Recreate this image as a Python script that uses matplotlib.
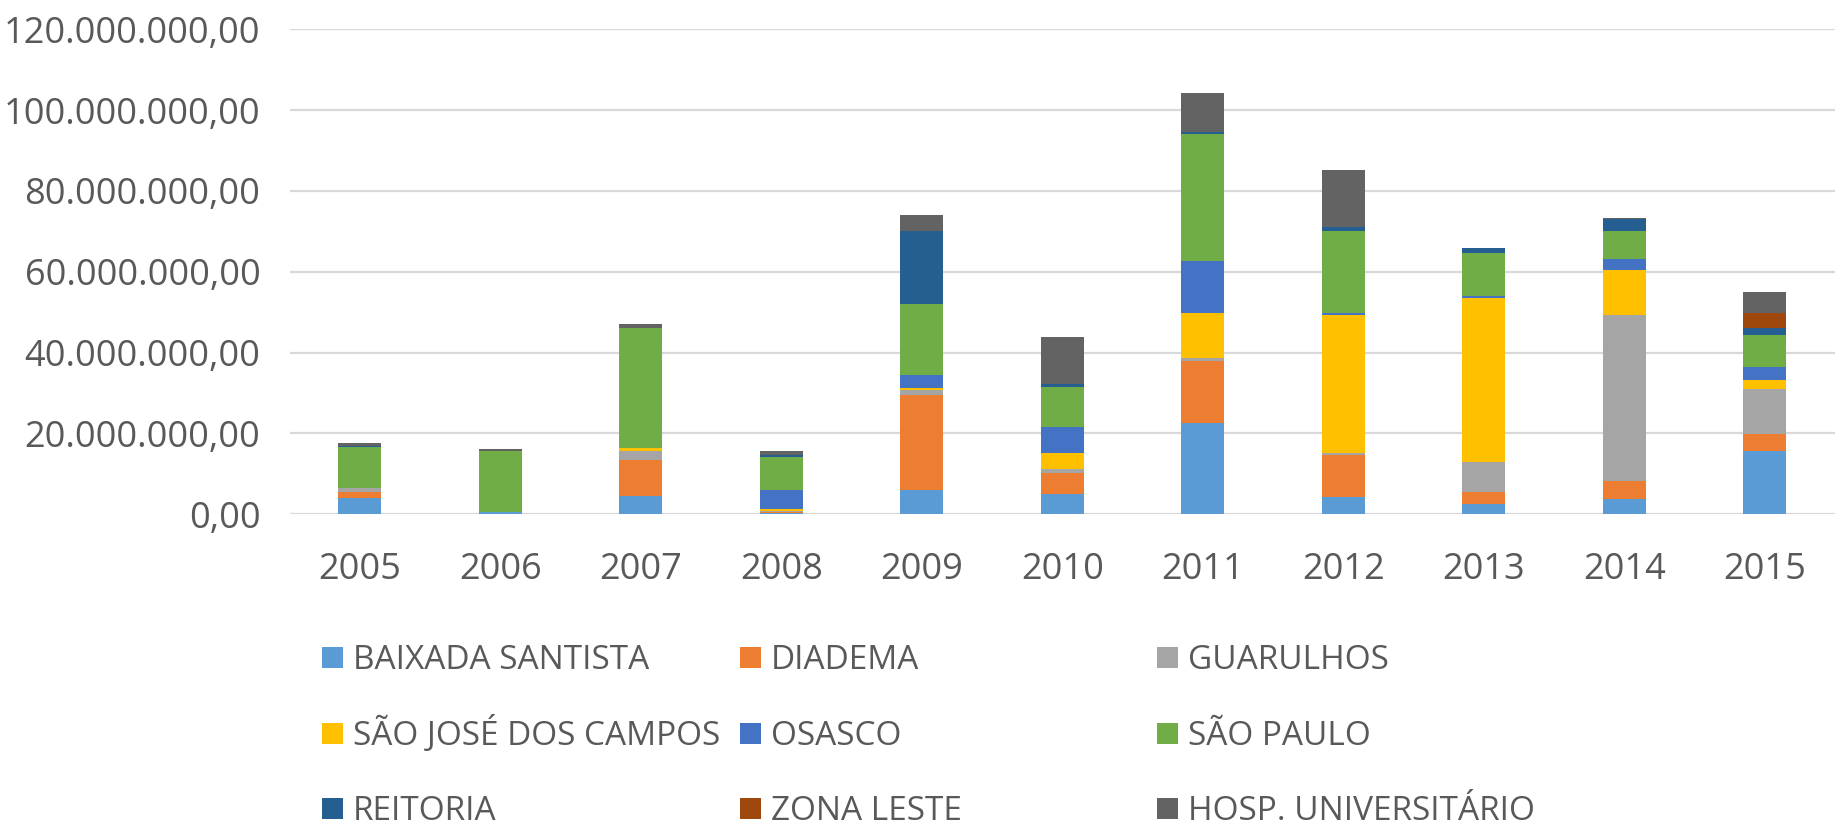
#!/usr/bin/env python3
# -*- coding: utf-8 -*-

import numpy as np
import matplotlib
matplotlib.use('Agg')
import matplotlib.pyplot as plt
from matplotlib.patches import Rectangle
from matplotlib.ticker import FuncFormatter, MultipleLocator

plt.rcParams['font.family'] = ['Open Sans', 'DejaVu Sans']

# anos e valores (milhões de R$)
anos = ['2005', '2006', '2007', '2008', '2009', '2010', '2011', '2012', '2013', '2014', '2015']

baixada_santista = [3.9, 0.6, 4.5, 0.2, 5.9, 4.9, 22.5, 4.3, 2.6, 3.8, 15.6]
diadema = [1.5, 0.0, 9.0, 0.2, 23.6, 5.3, 15.4, 10.3, 2.8, 4.3, 4.2]
guarulhos = [1.1, 0.0, 2.2, 0.3, 1.1, 1.0, 0.7, 0.4, 7.4, 41.2, 11.2]
sao_jose = [0.0, 0.0, 0.6, 0.5, 0.5, 3.8, 11.1, 34.2, 40.6, 11.1, 2.2]
osasco = [0.0, 0.0, 0.0, 4.8, 3.3, 6.5, 12.9, 0.5, 0.6, 2.7, 3.1]
sao_paulo = [10.2, 15.1, 29.7, 8.0, 17.6, 10.0, 31.5, 20.4, 10.7, 7.0, 8.0]
reitoria = [0.2, 0.0, 0.0, 0.6, 18.2, 0.7, 0.6, 1.1, 1.1, 2.9, 1.7]
zona_leste = [0.0, 0.0, 0.0, 0.0, 0.0, 0.0, 0.0, 0.0, 0.0, 0.0, 3.7]
hosp_univ = [0.6, 0.5, 1.1, 1.0, 3.8, 11.7, 9.5, 13.9, 0.2, 0.3, 5.3]

nomes = ['BAIXADA SANTISTA', 'DIADEMA', 'GUARULHOS',
         'SÃO JOSÉ DOS CAMPOS', 'OSASCO', 'SÃO PAULO',
         'REITORIA', 'ZONA LESTE', 'HOSP. UNIVERSITÁRIO']
series = [baixada_santista, diadema, guarulhos, sao_jose, osasco,
          sao_paulo, reitoria, zona_leste, hosp_univ]
cores = ['#5B9BD5', '#ED7D31', '#A5A5A5', '#FFC000', '#4472C4',
         '#70AD47', '#255E91', '#9E480E', '#636363']

texto_cor = '#595959'

fig = plt.figure(figsize=(18.35, 8.26), dpi=100)
ax = fig.add_axes([0.1578, 0.3777, 0.8422, 0.5866])

x = np.arange(len(anos))
base = np.zeros(len(anos))
for nome, vals, cor in zip(nomes, series, cores):
    vals = np.array(vals)
    ax.bar(x, vals, width=0.306, bottom=base, color=cor, linewidth=0, zorder=3)
    base += vals

ax.set_xlim(-0.5, len(anos) - 0.5)
ax.set_ylim(0, 120)
ax.yaxis.set_major_locator(MultipleLocator(20))


def formato_br(v, pos):
    s = f"{v * 1e6:,.2f}"
    return s.replace(',', 'X').replace('.', ',').replace('X', '.')


ax.yaxis.set_major_formatter(FuncFormatter(formato_br))
ax.set_xticks(x)
ax.set_xticklabels(anos)
ax.tick_params(axis='both', length=0, labelsize=26, labelcolor=texto_cor)
ax.tick_params(axis='y', pad=21)
ax.tick_params(axis='x', pad=27)

ax.grid(axis='y', color='#d9d9d9', linewidth=1.6, zorder=0)
for s in ax.spines.values():
    s.set_visible(False)
ax.set_axisbelow(True)

# legenda desenhada manualmente (3 colunas de largura igual)
col_x = [322, 740, 1157]
lin_y = [657, 733, 808]
W, H = 1835.0, 826.0
for i, (nome, cor) in enumerate(zip(nomes, cores)):
    r, c = divmod(i, 3)
    px, py = col_x[c], lin_y[r]
    fig.patches.append(Rectangle((px / W, 1 - (py + 10.5) / H), 21 / W, 21 / H,
                                 transform=fig.transFigure, facecolor=cor,
                                 edgecolor='none'))
    fig.text((px + 31) / W, 1 - (py + 12) / H, nome, fontsize=24, color=texto_cor,
             va='baseline', ha='left')

fig.savefig('out.png', dpi=100, facecolor='white')
